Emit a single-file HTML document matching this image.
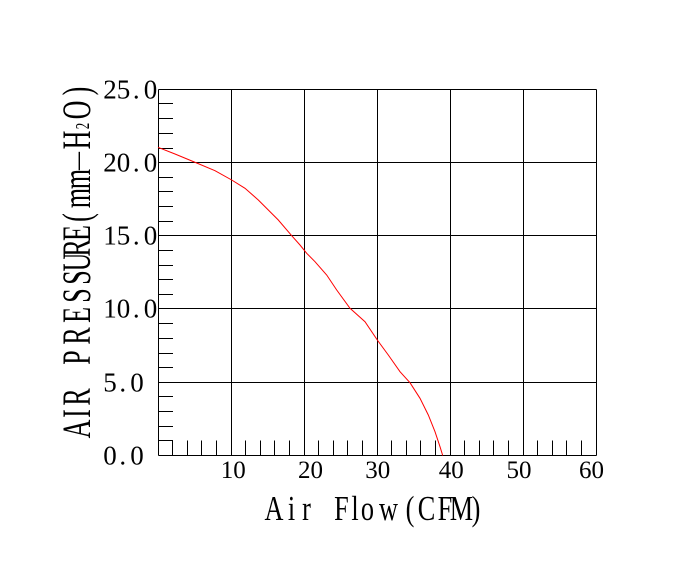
<!DOCTYPE html>
<html>
<head>
<meta charset="utf-8">
<style>
  html, body { margin: 0; padding: 0; background: #ffffff; }
  svg { display: block; }
</style>
</head>
<body>
<svg width="692" height="562" viewBox="0 0 692 562" xmlns="http://www.w3.org/2000/svg">
  <rect x="0" y="0" width="692" height="562" fill="#ffffff"/>
  <g stroke="#000" stroke-width="1" fill="none" shape-rendering="crispEdges">
    <line x1="158.5" y1="89.5" x2="596.5" y2="89.5"/>
    <line x1="158.5" y1="162.5" x2="596.5" y2="162.5"/>
    <line x1="158.5" y1="235.5" x2="596.5" y2="235.5"/>
    <line x1="158.5" y1="308.5" x2="596.5" y2="308.5"/>
    <line x1="158.5" y1="382.5" x2="596.5" y2="382.5"/>
    <line x1="158.5" y1="455.5" x2="596.5" y2="455.5"/>
    <line x1="158.5" y1="89.5" x2="158.5" y2="455.5"/>
    <line x1="231.5" y1="89.5" x2="231.5" y2="455.5"/>
    <line x1="304.5" y1="89.5" x2="304.5" y2="455.5"/>
    <line x1="377.5" y1="89.5" x2="377.5" y2="455.5"/>
    <line x1="450.5" y1="89.5" x2="450.5" y2="455.5"/>
    <line x1="523.5" y1="89.5" x2="523.5" y2="455.5"/>
    <line x1="596.5" y1="89.5" x2="596.5" y2="455.5"/>
    <path d="M158.5 440.5H173 M158.5 426.5H173 M158.5 411.5H173 M158.5 396.5H173
             M158.5 367.5H173 M158.5 353.5H173 M158.5 338.5H173 M158.5 323.5H173
             M158.5 294.5H173 M158.5 279.5H173 M158.5 265.5H173 M158.5 250.5H173
             M158.5 221.5H173 M158.5 206.5H173 M158.5 191.5H173 M158.5 177.5H173
             M158.5 148.5H173 M158.5 133.5H173 M158.5 118.5H173 M158.5 103.5H173"/>
    <path d="M172.5 440.5V455.5 M187.5 440.5V455.5 M201.5 440.5V455.5 M216.5 440.5V455.5
             M245.5 440.5V455.5 M260.5 440.5V455.5 M274.5 440.5V455.5 M289.5 440.5V455.5
             M318.5 440.5V455.5 M333.5 440.5V455.5 M347.5 440.5V455.5 M362.5 440.5V455.5
             M391.5 440.5V455.5 M406.5 440.5V455.5 M420.5 440.5V455.5 M435.5 440.5V455.5
             M464.5 440.5V455.5 M479.5 440.5V455.5 M493.5 440.5V455.5 M508.5 440.5V455.5
             M537.5 440.5V455.5 M552.5 440.5V455.5 M566.5 440.5V455.5 M581.5 440.5V455.5"/>
  </g>

  <polyline fill="none" stroke="#ff0000" stroke-width="1"
    points="158,147.3 175,154 194.3,162 215,170.7 231.7,180 245,188.3 258.3,200 268.3,210 278.3,220 291.7,235.7 300,245 306.7,253.3 315,261.7 326.7,275 336.7,290 350,308.3 365,321.7 377.3,340 388.3,355 400,371.7 410,382.7 420,398.3 428.3,415 435,431.7 440,446.7 442.7,455.5"/>

  <g font-family="Liberation Serif, serif" font-size="27" fill="#000" text-anchor="middle">
    <text x="110 123.5 136.3 150.5" y="98.5">25.0</text>
    <text x="110 123.5 136.3 150.5" y="171.5">20.0</text>
    <text x="110 123.5 136.3 150.5" y="244.5">15.0</text>
    <text x="110 123.5 136.3 150.5" y="317.5">10.0</text>
    <text x="110 122.8 137" y="391.5">5.0</text>
    <text x="110 122.8 137" y="464.5">0.0</text>
  </g>

  <g font-family="Liberation Serif, serif" font-size="25" fill="#000" text-anchor="middle">
    <text x="233.3" y="478">10</text>
    <text x="310.5" y="478">20</text>
    <text x="377.7" y="478">30</text>
    <text x="451.3" y="478">40</text>
    <text x="519" y="478">50</text>
    <text x="591.5" y="478">60</text>
  </g>

  <g transform="scale(0.75 1)">
    <text font-family="Liberation Serif, serif" font-size="35" fill="#000" text-anchor="middle" y="520"
      x="365.3 388.7 408.7 455.3 473.3 490 518 546.7 568.7 593.3 615.3 634.7">AirFlow(CFM)</text>
  </g>

  <g transform="rotate(-90) scale(0.65 1)">
    <text font-family="Liberation Serif, serif" font-size="40" fill="#000" text-anchor="middle" y="90"
      x="-660 -636.2 -610.8 -550 -516.9 -484.6 -454.6 -426.9 -403.1 -381.5 -358.5 -334.6 -304.6 -275.4">AIRPRESSURE(mm</text>
    <text font-family="Liberation Serif, serif" font-size="28" fill="#000" text-anchor="middle" y="86"
      x="-247.7">—</text>
    <text font-family="Liberation Serif, serif" font-size="40" fill="#000" text-anchor="middle" y="90"
      x="-215.4">H</text>
    <text font-family="Liberation Serif, serif" font-size="20" fill="#000" text-anchor="middle" y="89"
      x="-193.8">2</text>
    <text font-family="Liberation Serif, serif" font-size="40" fill="#000" text-anchor="middle" y="90"
      x="-169.2 -140">O)</text>
  </g>
</svg>
</body>
</html>
